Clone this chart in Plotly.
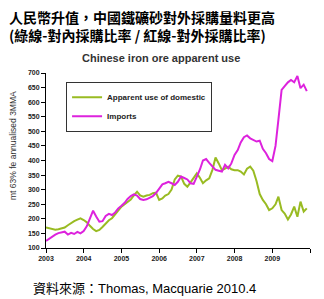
import plotly.graph_objects as go

years = [2003, 2004, 2005, 2006, 2007, 2008, 2009]
months = list(range(1, 13))
dates = [f"{y}-{m:02d}-01" for y in years for m in months]

imports = [
    124, 132, 140, 146, 151, 154, 156, 146, 152, 148, 155, 150,
    158, 175, 198, 228, 208, 190, 192, 210, 217, 213, 222, 236,
    245, 255, 268, 278, 284, 280, 268, 265, 267, 272, 278, 288,
    305, 318, 322, 327, 322, 316, 327, 345, 340, 335, 322, 320,
    345, 370, 400, 405, 392, 378, 368, 365, 362, 385, 373, 390,
    419, 436, 462, 480, 486, 476, 470, 465, 468, 440, 425, 405,
    398, 450, 540, 642, 655, 668, 676, 668, 690, 648, 660, 638,
]
domestic = [
    170, 168, 165, 163, 164, 166, 170, 178, 186, 192, 197, 202,
    196, 188, 176, 165, 158, 162, 172, 185, 195, 202, 215, 230,
    242, 250, 258, 266, 280, 293, 280, 276, 280, 282, 288, 290,
    265, 270, 280, 285, 300, 335, 348, 345, 320, 310, 325, 339,
    356, 340, 322, 332, 339, 368, 410, 390, 367, 372, 379, 370,
    367, 367, 362, 352, 372, 379, 365, 330, 285, 265, 250, 230,
    236, 250, 276, 230, 218, 198, 215, 242, 207, 259, 225, 236,
]
tick_years = [2003, 2004, 2005, 2006, 2007, 2008, 2009, 2010]
tick_labels = ["2003", "2004", "2005", "2006", "2007", "2008", "2009", ""]

GREEN = "#99BB22"
MAGENTA = "#DD22DD"
LATIN = "Arial, Liberation Sans, sans-serif"

fig = go.Figure()
fig.add_trace(go.Scatter(x=dates, y=domestic, mode="lines", name="Apparent use of domestic",
                         line=dict(color=GREEN, width=2)))
fig.add_trace(go.Scatter(x=dates, y=imports, mode="lines", name="Imports",
                         line=dict(color=MAGENTA, width=2)))

fig.update_layout(
    width=324, height=299,
    margin=dict(l=46, r=14, t=73, b=51),
    paper_bgcolor="white", plot_bgcolor="white",
    showlegend=True,
    legend=dict(x=0.076, y=0.95, xanchor="left", yanchor="top",
                bordercolor="#333333", borderwidth=1, bgcolor="white",
                font=dict(family=LATIN, size=8, color="#222222", weight="bold"),
                itemwidth=30, tracegroupgap=0),
    xaxis=dict(
        type="date",
        range=["2003-01-01", "2010-01-01"],
        tickvals=[f"{y}-01-01" for y in tick_years],
        ticktext=tick_labels,
        showgrid=False, zeroline=False,
        showline=True, linecolor="black", linewidth=1,
        ticks="outside", ticklen=4, tickcolor="black",
        tickfont=dict(family=LATIN, size=7, color="#222222", weight="bold"),
    ),
    yaxis=dict(
        range=[100, 700], tick0=100, dtick=50,
        showgrid=False, zeroline=False,
        showline=True, linecolor="black", linewidth=1,
        ticks="outside", ticklen=4, tickcolor="black",
        tickfont=dict(family=LATIN, size=7, color="#222222", weight="bold"),
    ),
    annotations=[
        dict(text="<b>人民幣升值，中國鐵礦砂對外採購量料更高<br>(綠線-對內採購比率 / 紅線-對外採購比率)</b>",
             xref="paper", yref="paper",
             x=-0.147, y=1.27, xanchor="left", yanchor="middle", align="left", showarrow=False,
             font=dict(family="Noto Sans CJK TC", size=14, color="black")),
        dict(text="<b>Chinese iron ore apparent use</b>", xref="paper", yref="paper",
             x=0.436, y=1.086, xanchor="center", yanchor="middle", showarrow=False,
             font=dict(family=LATIN, size=11, color="#333333")),
        dict(text="mt 63% fe annualised 3MMA", xref="paper", yref="paper",
             x=-0.125, y=0.583, xanchor="center", yanchor="middle", showarrow=False,
             textangle=-90, font=dict(family=LATIN, size=8.5, color="#333333")),
        dict(text="資料來源：Thomas, Macquarie 2010.4", xref="paper", yref="paper",
             x=-0.057, y=-0.229, xanchor="left", yanchor="middle", showarrow=False,
             font=dict(family="Liberation Sans, Noto Sans CJK TC", size=13, color="black")),
    ],
)

fig.write_html("out.html")
